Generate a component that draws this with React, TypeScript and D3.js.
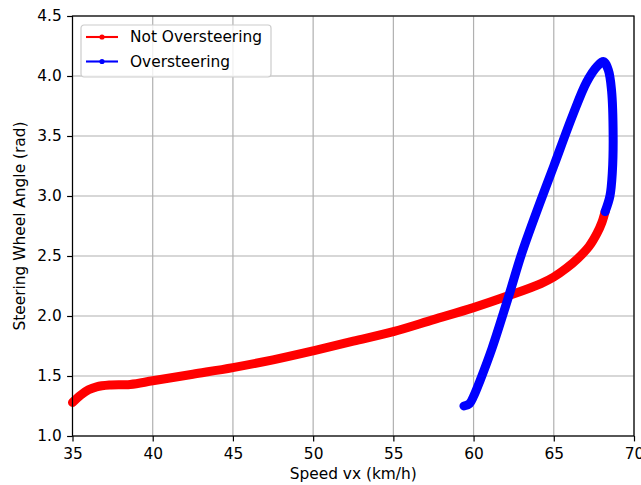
import React, { useRef, useEffect } from 'react';
import * as d3 from 'd3';

// speed (km/h) / steering wheel angle (rad)
const notOverSpeed = [35, 35.5, 36, 36.5, 37.3, 38.6, 40, 42.5, 45, 47.5, 50, 52.5, 55, 57.5, 60, 62.2, 64.2, 65, 65.8, 66.5, 67.2, 67.7, 68.0, 68.2];
const notOverAngle = [1.28, 1.34, 1.385, 1.41, 1.425, 1.43, 1.46, 1.515, 1.57, 1.635, 1.71, 1.79, 1.87, 1.97, 2.07, 2.17, 2.27, 2.325, 2.4, 2.48, 2.58, 2.69, 2.78, 2.87];

const overSpeed = [68.2, 68.5, 68.65, 68.7, 68.6, 68.4, 68.1, 67.7, 67.05, 66.2, 65.0, 64.1, 63.0, 62.2, 61.15, 60.4, 60.0, 59.75, 59.4];
const overAngle = [2.87, 3.0, 3.2, 3.5, 3.88, 4.05, 4.12, 4.08, 3.95, 3.68, 3.25, 2.93, 2.52, 2.17, 1.73, 1.46, 1.33, 1.27, 1.25];

const xTicks = [35, 40, 45, 50, 55, 60, 65, 70];
const yTicks = [1.0, 1.5, 2.0, 2.5, 3.0, 3.5, 4.0, 4.5];

const seriesNames = ['Not Oversteering', 'Oversteering'];
const seriesColors = ['#ff0000', '#0000ff'];

const App = () => {
  const chartRef = useRef<SVGSVGElement | null>(null);

  useEffect(() => {
    const svgWidth = 641;
    const svgHeight = 485;
    const margin = { top: 16, right: 7, bottom: 49, left: 72.5 };
    const width = svgWidth - margin.left - margin.right;
    const height = svgHeight - margin.top - margin.bottom;
    const font = '"DejaVu Sans", sans-serif';
    const fontSize = 15.4;

    const root = d3.select(chartRef.current);
    root.selectAll('*').remove();
    const svg = root.append('g').attr('transform', `translate(${margin.left},${margin.top})`);

    const xScale = d3.scaleLinear().domain([35, 70]).range([0, width]);
    const yScale = d3.scaleLinear().domain([1.0, 4.5]).range([height, 0]);

    // grid
    svg.append('g')
      .selectAll('line')
      .data(xTicks)
      .join('line')
      .attr('x1', d => xScale(d)).attr('x2', d => xScale(d))
      .attr('y1', 0).attr('y2', height)
      .attr('stroke', '#b0b0b0').attr('stroke-width', 1.2);
    svg.append('g')
      .selectAll('line')
      .data(yTicks)
      .join('line')
      .attr('y1', d => yScale(d)).attr('y2', d => yScale(d))
      .attr('x1', 0).attr('x2', width)
      .attr('stroke', '#b0b0b0').attr('stroke-width', 1.2);

    const line = d3.line<[number, number]>()
      .x(d => xScale(d[0]))
      .y(d => yScale(d[1]))
      .curve(d3.curveCatmullRom.alpha(0.5));

    const series: [number, number][][] = [
      notOverSpeed.map((v, i) => [v, notOverAngle[i]]),
      overSpeed.map((v, i) => [v, overAngle[i]]),
    ];

    series.forEach((data, i) => {
      svg.append('path')
        .datum(data)
        .attr('d', line)
        .attr('fill', 'none')
        .attr('stroke', seriesColors[i])
        .attr('stroke-width', 9)
        .attr('stroke-linecap', 'round')
        .attr('stroke-linejoin', 'round');
    });

    // axes
    const xAxis = svg.append('g')
      .attr('transform', `translate(0,${height})`)
      .call(d3.axisBottom(xScale).tickValues(xTicks).tickSize(5.4).tickPadding(7).tickFormat(d3.format('d')));
    const yAxis = svg.append('g')
      .call(d3.axisLeft(yScale).tickValues(yTicks).tickSize(5.4).tickPadding(5.4).tickFormat(d3.format('.1f')));

    [xAxis, yAxis].forEach(ax => {
      ax.select('.domain').remove();
      ax.selectAll('line').attr('stroke', '#000').attr('stroke-width', 1.2);
      ax.selectAll('text').attr('font-family', font).attr('font-size', fontSize).attr('fill', '#000');
    });

    svg.append('rect')
      .attr('width', width).attr('height', height)
      .attr('fill', 'none').attr('stroke', '#000').attr('stroke-width', 1.2);

    // labels
    svg.append('text')
      .attr('x', width / 2).attr('y', height + 43)
      .attr('text-anchor', 'middle')
      .attr('font-family', font).attr('font-size', fontSize)
      .text('Speed vx (km/h)');
    svg.append('text')
      .attr('transform', `translate(${-47.3},${height / 2}) rotate(-90)`)
      .attr('text-anchor', 'middle')
      .attr('font-family', font).attr('font-size', fontSize)
      .text('Steering Wheel Angle (rad)');

    // legend
    const legend = svg.append('g').attr('transform', 'translate(8.5,9)');
    legend.append('rect')
      .attr('width', 190).attr('height', 52).attr('rx', 3)
      .attr('fill', '#fff').attr('fill-opacity', 0.8)
      .attr('stroke', '#cccccc').attr('stroke-width', 1.2);
    seriesNames.forEach((name, i) => {
      const g = legend.append('g').attr('transform', `translate(0,${12 + i * 24.5})`);
      g.append('line')
        .attr('x1', 5).attr('x2', 37)
        .attr('stroke', seriesColors[i]).attr('stroke-width', 2.1);
      g.append('circle')
        .attr('cx', 21).attr('r', 2.6)
        .attr('fill', seriesColors[i]);
      g.append('text')
        .attr('x', 49).attr('dy', '0.35em')
        .attr('font-family', font).attr('font-size', fontSize)
        .text(name);
    });
  }, []);

  return (
    <svg
      ref={chartRef}
      width={641}
      height={485}
      style={{ position: 'absolute', left: 0, top: 0, background: '#fff' }}
    />
  );
};

export default App;
